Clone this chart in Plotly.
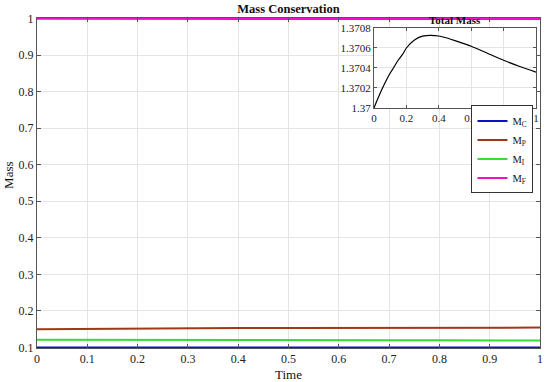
import plotly.graph_objects as go

time = [0, 0.1, 0.2, 0.3, 0.4, 0.5, 0.6, 0.7, 0.8, 0.9, 1.0]
m_c = [0.1, 0.1, 0.1, 0.1, 0.1, 0.1, 0.1, 0.1, 0.1, 0.1, 0.1]
m_p = [0.150, 0.1512, 0.1520, 0.1526, 0.1530, 0.1533, 0.1536, 0.1538, 0.1540, 0.1542, 0.1543]
m_i = [0.1210, 0.1205, 0.1202, 0.1200, 0.1198, 0.1197, 0.1196, 0.1195, 0.1194, 0.1193, 0.1192]
m_f = [0.9995, 0.9994, 0.9992, 0.9990, 0.9989, 0.9988, 0.9987, 0.9986, 0.9986, 0.9985, 0.9985]

inset_t = [0, 0.02, 0.04, 0.06, 0.08, 0.1, 0.12, 0.15, 0.18, 0.2, 0.25, 0.3, 0.35, 0.4,
           0.45, 0.5, 0.6, 0.7, 0.8, 0.9, 1.0]
inset_m = [1.37, 1.370080, 1.370155, 1.370225, 1.370290, 1.370350, 1.370400, 1.370480,
           1.370545, 1.370600, 1.370680, 1.370718, 1.370727, 1.370720, 1.370700, 1.370674,
           1.370618, 1.370548, 1.370478, 1.370415, 1.370359]

FONT = "Liberation Serif"
fig = go.Figure()
fig.add_trace(go.Scatter(x=time, y=m_c, mode="lines", name="M<sub>C</sub>",
                         line=dict(color="#1010c0", width=2)))
fig.add_trace(go.Scatter(x=time, y=m_p, mode="lines", name="M<sub>P</sub>",
                         line=dict(color="#a03818", width=2)))
fig.add_trace(go.Scatter(x=time, y=m_i, mode="lines", name="M<sub>I</sub>",
                         line=dict(color="#33dd33", width=2)))
fig.add_trace(go.Scatter(x=time, y=m_f, mode="lines", name="M<sub>F</sub>",
                         line=dict(color="#ee11cc", width=2)))
fig.add_trace(go.Scatter(x=inset_t, y=inset_m, mode="lines", showlegend=False,
                         line=dict(color="black", width=1.2, shape="spline", smoothing=0.6),
                         xaxis="x2", yaxis="y2"))

axis_common = dict(showline=True, linecolor="#555555", linewidth=1, mirror="ticks",
                   ticks="inside", ticklen=4, tickcolor="#555555",
                   gridcolor="#e4e4e4", zeroline=False, automargin=False,
                   tickfont=dict(family=FONT, size=12, color="#222222"))
inset_common = dict(showline=True, linecolor="#555555", mirror="ticks", ticks="inside", ticklen=3,
                    tickcolor="#555555", gridcolor="#e4e4e4", zeroline=False, automargin=False,
                    tickfont=dict(family=FONT, size=11, color="#222222"))

fig.update_layout(
    width=550, height=382,
    margin=dict(l=37, r=10, t=18, b=34, autoexpand=False),
    paper_bgcolor="white", plot_bgcolor="white",
    font=dict(family=FONT, color="#111111"),
    title=dict(text="<b>Mass Conservation</b>", xref="paper", x=0.5, xanchor="center",
               yref="container", y=0.988, yanchor="top",
               font=dict(family=FONT, size=12.5, color="#111111")),
    xaxis=dict(range=[0, 1], tickvals=[0, 0.1, 0.2, 0.3, 0.4, 0.5, 0.6, 0.7, 0.8, 0.9, 1],
               ticktext=["0", "0.1", "0.2", "0.3", "0.4", "0.5", "0.6", "0.7", "0.8", "0.9", "1"],
               **axis_common),
    yaxis=dict(range=[0.0985, 1.0015], tickvals=[0.1, 0.2, 0.3, 0.4, 0.5, 0.6, 0.7, 0.8, 0.9, 1],
               ticktext=["0.1", "0.2", "0.3", "0.4", "0.5", "0.6", "0.7", "0.8", "0.9", "1"],
               **axis_common),
    xaxis2=dict(domain=[0.670, 0.992], anchor="y2", range=[0, 1],
                tickvals=[0, 0.2, 0.4, 0.6, 0.8, 1], ticktext=["0", "0.2", "0.4", "0.6", "0.8", "1"],
                **inset_common),
    yaxis2=dict(domain=[0.7273, 0.9697], anchor="x2", range=[1.37, 1.3708],
                tickvals=[1.37, 1.3702, 1.3704, 1.3706, 1.3708],
                ticktext=["1.37", "1.3702", "1.3704", "1.3706", "1.3708"],
                **inset_common),
    legend=dict(x=0.987, y=0.735, xanchor="right", yanchor="top",
                bgcolor="white", bordercolor="#333333", borderwidth=1,
                font=dict(family=FONT, size=10.5, color="#111111"),
                itemwidth=30, tracegroupgap=0),
    annotations=[
        dict(text="<b>Total Mass</b>", xref="paper", yref="paper",
             x=0.831, y=0.9697, xanchor="center", yanchor="bottom", showarrow=False,
             font=dict(family=FONT, size=11, color="#111111")),
        dict(text="Time", xref="paper", yref="paper", x=0.5, y=-0.05, xanchor="center",
             yanchor="top", showarrow=False, font=dict(family=FONT, size=13, color="#111111")),
        dict(text="Mass", xref="paper", yref="paper", x=-0.058, y=0.524, xanchor="center",
             yanchor="middle", textangle=-90, showarrow=False,
             font=dict(family=FONT, size=13, color="#111111")),
    ],
    shapes=[dict(type="rect", xref="paper", yref="paper", x0=0.670, x1=0.992, y0=0.7273, y1=0.9697,
                 fillcolor="white", line=dict(width=0), layer="below")],
)

fig.write_html("out.html", config={"displayModeBar": False},
               post_script="document.body.style.margin='0';")
